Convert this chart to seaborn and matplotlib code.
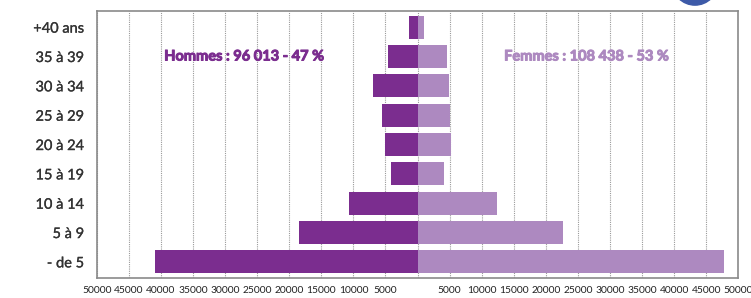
import pandas as pd
import seaborn as sns
import matplotlib.pyplot as plt
import matplotlib.patheffects as pe
from matplotlib.patches import Ellipse

# Données
ages = ['+40 ans', '35 à 39', '30 à 34', '25 à 29', '20 à 24',
        '15 à 19', '10 à 14', '5 à 9', '- de 5']
hommes = [1300, 4650, 7000, 5600, 5100, 4200, 10700, 18500, 41000]
femmes = [1000, 4550, 4850, 5000, 5200, 4100, 12400, 22600, 47800]
ticks = [-50000, -45000, -40000, -35000, -30000, -25000, -20000, -15000, -10000, -5000,
         0, 5000, 10000, 15000, 20000, 25000, 30000, 35000, 40000, 45000, 50000]

couleur_h = '#7b2d8f'
couleur_f = '#ad89c0'

df = pd.DataFrame({
    'age': ages * 2,
    'valeur': [-v for v in hommes] + femmes,
    'sexe': ['Hommes'] * len(ages) + ['Femmes'] * len(ages),
})

sns.set_style('white')
plt.rcParams['font.family'] = ['Lato', 'DejaVu Sans']

fig = plt.figure(figsize=(7.51, 2.98), dpi=100)
ax = fig.add_axes([0.129, 0.067, 0.854, 0.896])

sns.barplot(data=df, x='valeur', y='age', hue='sexe', order=ages, dodge=False,
            palette={'Hommes': couleur_h, 'Femmes': couleur_f}, width=0.78,
            orient='h', ax=ax, legend=False, saturation=1, linewidth=0, zorder=3)

# Grille verticale en pointillés
for t in ticks:
    ax.axvline(t, color='#9a9a9a', linestyle=(0, (1, 1)), linewidth=0.8, zorder=1)

ax.set_xlim(-50000, 50000)
ax.set_ylim(8.55, -0.55)
ax.set_xticks(ticks)
ax.set_xticklabels(['' if t == 0 else str(abs(t)) for t in ticks], fontsize=7.4, color='#222222')
ax.tick_params(axis='y', labelsize=10.5, labelcolor='#333333', length=0, pad=9)
ax.tick_params(axis='x', length=0, pad=6)
for lab in ax.get_yticklabels():
    lab.set_path_effects([pe.withStroke(linewidth=0.2, foreground='#333333')])
ax.set_xlabel('')
ax.set_ylabel('')

for s in ax.spines.values():
    s.set_color('#8a8a8a')
    s.set_linewidth(1.2)

ax.text(-39500, 1, 'Hommes : 96 013 - 47 %', color=couleur_h, fontsize=10.5,
        fontweight='bold', va='center', ha='left',
        path_effects=[pe.withStroke(linewidth=0.7, foreground=couleur_h)])
ax.text(13500, 1, 'Femmes : 108 438 - 53 %', color=couleur_f, fontsize=10.5,
        fontweight='bold', va='center', ha='left',
        path_effects=[pe.withStroke(linewidth=0.7, foreground=couleur_f)])

# Bout de logo bleu coupé en haut à droite
fig.patches.append(Ellipse((695 / 751, 1.06), 46 / 751, 46 / 298,
                           transform=fig.transFigure, color='#3d5aa8', zorder=5))

fig.savefig('out.png', dpi=100)
